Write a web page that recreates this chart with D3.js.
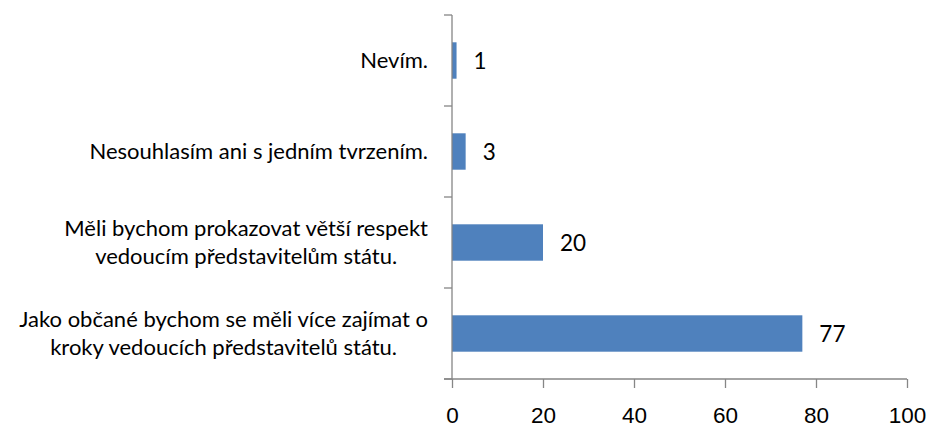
<!DOCTYPE html>
<meta charset="utf-8">
<style>
  body { margin: 0; background: #fff; }
  svg { font-family: Lato, "Open Sans", sans-serif; }
  .axis path, .axis line { stroke: #868686; stroke-width: 1.3; }
  .axis text { fill: #000; }
</style>
<body>
<script src="https://cdn.jsdelivr.net/npm/d3@7"></script>
<script>

// categories, top to bottom (line breaks as in the original)
var categories = [
  "Nevím.",
  "Nesouhlasím ani s jedním tvrzením.",
  "Měli bychom prokazovat větší respekt\nvedoucím představitelům státu.",
  "Jako občané bychom se měli více zajímat o\nkroky vedoucích představitelů státu."
];
var values = [1, 3, 20, 77];
var xTicks = [0, 20, 40, 60, 80, 100];

var W = 930, H = 425;
var plotL = 452, plotR = 907, plotT = 15, plotB = 379;

var svg = d3.select("body").append("svg")
    .attr("width", W)
    .attr("height", H);

var x = d3.scaleLinear().domain([0, 100]).range([plotL, plotR]);
var y = d3.scaleBand().domain(categories).range([plotT, plotB])
    .paddingInner(0.6).paddingOuter(0.3);

// bars
svg.selectAll("rect.bar")
  .data(values)
  .enter().append("rect")
    .attr("class", "bar")
    .attr("x", x(0))
    .attr("y", function(d, i) { return y(categories[i]); })
    .attr("width", function(d) { return x(d) - x(0); })
    .attr("height", y.bandwidth())
    .attr("fill", "#4f81bd");

// value labels
svg.selectAll("text.val")
  .data(values)
  .enter().append("text")
    .attr("class", "val")
    .attr("x", function(d) { return x(d) + 17; })
    .attr("y", function(d, i) { return y(categories[i]) + y.bandwidth() / 2; })
    .attr("dy", "0.38em")
    .style("font-size", "22.5px")
    .text(function(d) { return d; });

// x axis
var xaxis = d3.axisBottom(x)
    .tickValues(xTicks)
    .tickSize(9)
    .tickSizeOuter(0)
    .tickPadding(19);

svg.append("g")
    .attr("class", "axis")
    .attr("transform", "translate(0," + plotB + ")")
    .call(xaxis)
    .call(function(g) {
      g.selectAll("text").style("font-size", "22.5px");
      g.select(".domain").attr("d", "M" + (plotL - 8) + ",0H" + plotR);
    });

// y axis: line + ticks at category boundaries
var gy = svg.append("g").attr("class", "axis");
gy.append("line")
    .attr("x1", plotL).attr("x2", plotL)
    .attr("y1", plotT).attr("y2", plotB);
var bounds = d3.range(categories.length + 1).map(function(i) {
  return y.range()[0] + i * y.step();
});
gy.selectAll("line.tick")
  .data(bounds)
  .enter().append("line")
    .attr("class", "tick")
    .attr("x1", plotL - 8).attr("x2", plotL)
    .attr("y1", function(d) { return d; })
    .attr("y2", function(d) { return d; });

// category labels, block right aligned, lines centred on each other
var labelRight = 428, lineH = 28;
categories.forEach(function(c, i) {
  var lines = c.split("\n");
  var cy = y(c) + y.bandwidth() / 2;
  var g = svg.append("g");
  var texts = lines.map(function(l, j) {
    return g.append("text")
      .style("font-size", "22px")
      .attr("y", cy + (j - (lines.length - 1) / 2) * lineH)
      .attr("dy", "0.36em")
      .attr("text-anchor", "middle")
      .text(l);
  });
  var maxW = d3.max(texts, function(t) { return t.node().getComputedTextLength(); });
  texts.forEach(function(t) { t.attr("x", labelRight - maxW / 2); });
});

</script>
</body>
